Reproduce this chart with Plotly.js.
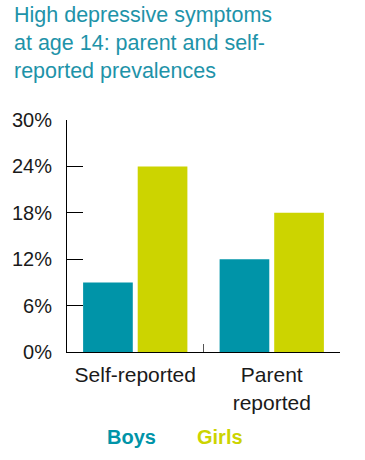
<!DOCTYPE html>
<html>
<head>
<meta charset="utf-8">
<script src="https://cdn.plot.ly/plotly-3.0.1.min.js"></script>
<style>html,body{margin:0;padding:0;background:#fff;}#chart{width:365px;height:460px;}</style>
</head>
<body>
<div id="chart"></div>
<script>
const categories = ["Self-reported", "Parent<br>reported"];
const seriesNames = ["Boys", "Girls"];
const boys = [9, 12];
const girls = [24, 18];
const yTicks = [0, 6, 12, 18, 24, 30];
const titleText = "High depressive symptoms<br>at age 14: parent and self-<br>reported prevalences";

const teal = "#0094A8";
const lime = "#CCD400";
const font = "Liberation Sans, Arial, Helvetica, sans-serif";

const traces = [
  {type: "bar", name: seriesNames[0], x: categories, y: boys, marker: {color: teal}, hoverinfo: "none"},
  {type: "bar", name: seriesNames[1], x: categories, y: girls, marker: {color: lime}, hoverinfo: "none"}
];

const layout = {
  width: 365, height: 460,
  margin: {l: 67, r: 25, t: 120, b: 108, pad: 0},
  paper_bgcolor: "#fff", plot_bgcolor: "#fff",
  font: {family: font, color: "#1a1a1a"},
  showlegend: false,
  barmode: "group",
  bargap: 0.2,
  bargroupgap: 0.09,
  xaxis: {
    type: "category",
    showline: true, linecolor: "#000", linewidth: 1,
    ticks: "inside", tickson: "boundaries", ticklen: 8, tickcolor: "#555", tickwidth: 1,
    tickfont: {family: font, size: 21, color: "#1a1a1a"},
    ticklabelstandoff: 4,
    showgrid: false, zeroline: false, fixedrange: true
  },
  yaxis: {
    range: [0, 30],
    tickvals: yTicks, ticktext: yTicks.map(v => v + "%"),
    showline: true, linecolor: "#000", linewidth: 1,
    ticks: "inside", ticklen: 16, tickcolor: "#000", tickwidth: 1,
    tickfont: {family: font, size: 20, color: "#1a1a1a"},
    ticklabelstandoff: 10,
    showgrid: false, zeroline: false, fixedrange: true
  },
  annotations: [
    {text: titleText, xref: "paper", yref: "paper", x: (12-67)/273, y: (352-1)/232,
     xanchor: "left", yanchor: "top", align: "left", showarrow: false,
     font: {family: font, size: 21.5, color: "#1E93A9"}},
    {text: "<b>" + seriesNames[0] + "</b>", xref: "paper", yref: "paper", x: (131-67)/273, y: (352-437)/232,
     xanchor: "center", yanchor: "middle", showarrow: false, font: {family: font, size: 20, color: teal}},
    {text: "<b>" + seriesNames[1] + "</b>", xref: "paper", yref: "paper", x: (219.5-67)/273, y: (352-437)/232,
     xanchor: "center", yanchor: "middle", showarrow: false, font: {family: font, size: 20, color: lime}}
  ]
};

Plotly.newPlot("chart", traces, layout, {staticPlot: true, displayModeBar: false});
</script>
</body>
</html>
